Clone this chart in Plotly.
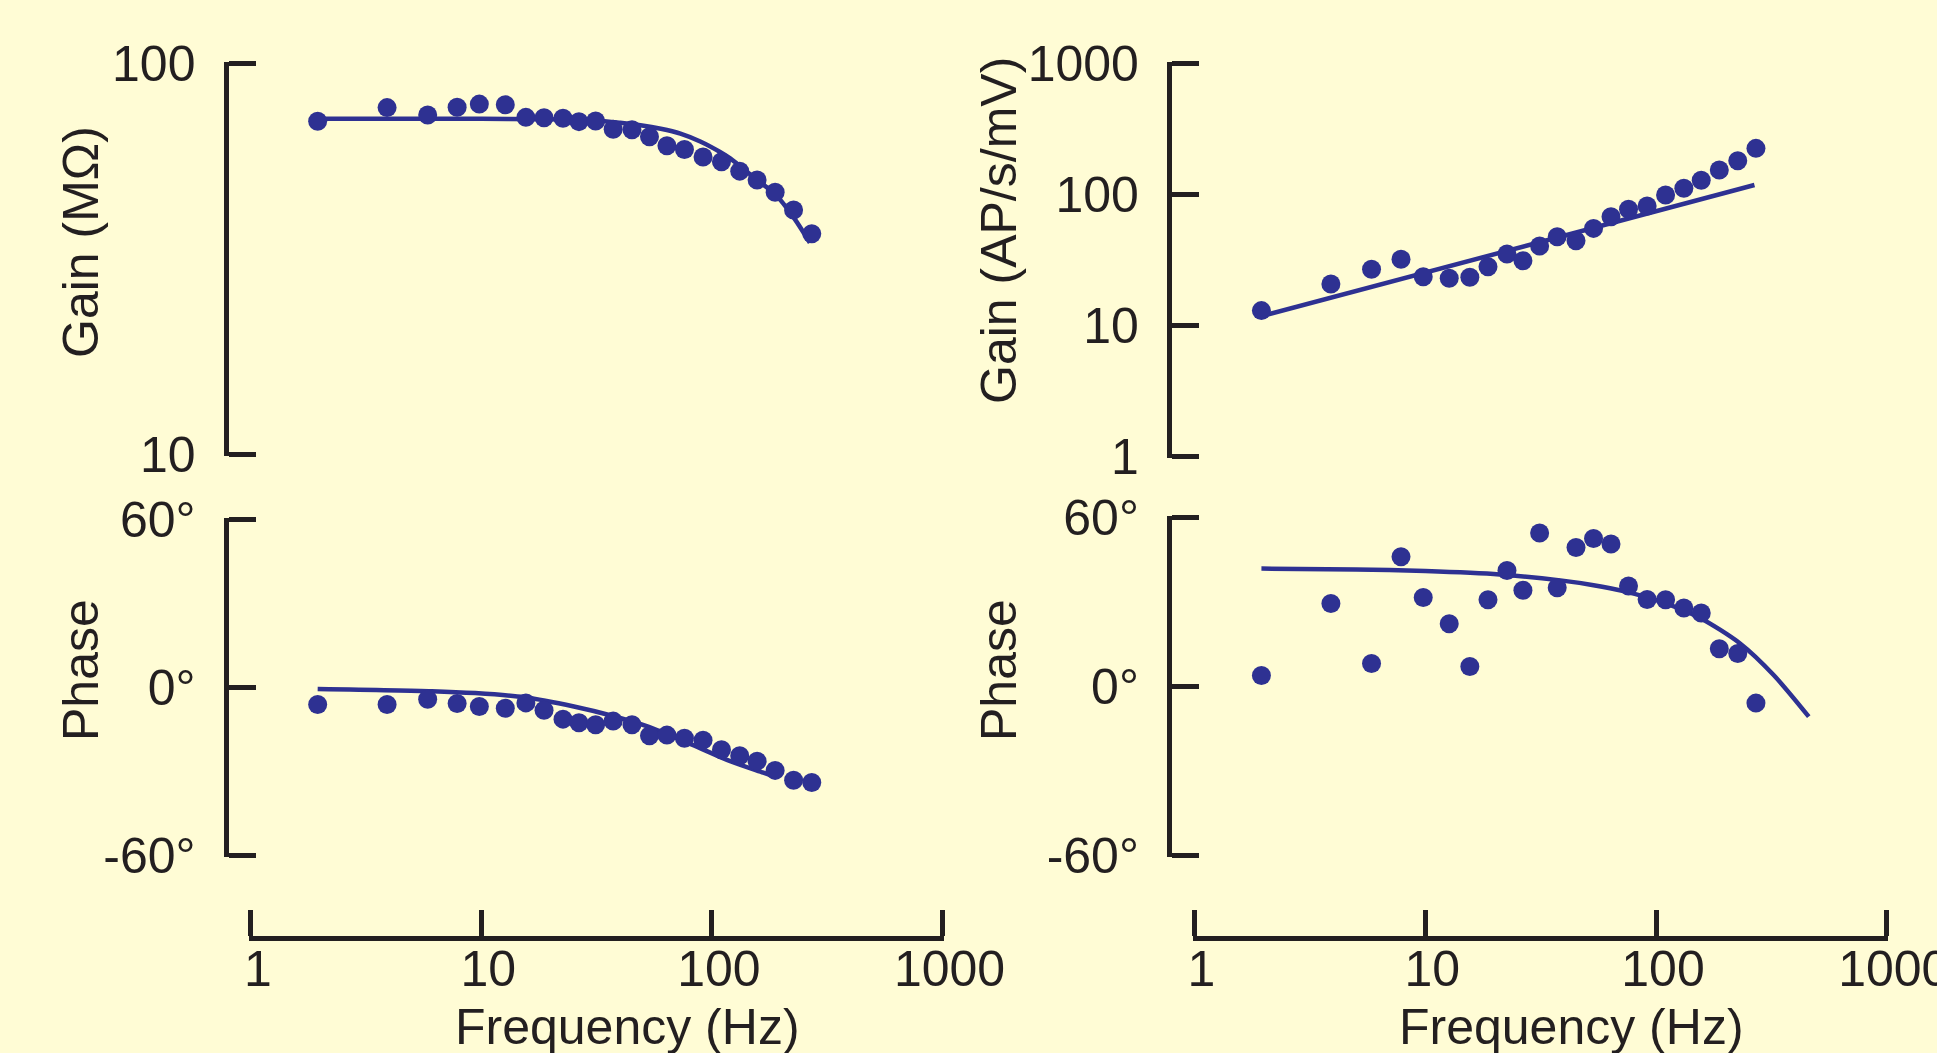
import plotly.graph_objects as go

# ---------------- data ----------------
freq = [1.95, 3.9, 5.85, 7.85, 9.8, 12.7, 15.6, 18.7, 22.6, 26.5, 31.3, 37.3,
        45, 53.6, 63.8, 76, 91.5, 110, 132, 157, 188, 226, 271]

gain_left = [71.0, 76.9, 73.6, 77.1, 78.5, 78.2, 72.6, 72.4, 72.2, 70.8, 71.1, 67.7,
             67.5, 64.8, 61.4, 60.1, 57.5, 55.9, 52.9, 50.2, 46.7, 42.1, 36.6]
phase_left = [-6.1, -6.1, -4.2, -5.7, -6.8, -7.4, -5.5, -8.1, -11.3, -12.6, -13.3, -12.0,
              -13.3, -17.2, -17.0, -18.1, -18.8, -22.2, -24.4, -26.3, -29.6, -33.1, -33.9]

gain_right = [12.9, 20.6, 26.7, 31.8, 23.4, 22.8, 23.2, 27.9, 34.9, 31.0, 40.2, 47.3,
              44.1, 54.8, 67.3, 76.7, 81.3, 98.6, 111, 128, 153, 180, 224]
phase_right = [3.9, 29.5, 8.2, 46.1, 31.6, 22.3, 7.1, 30.8, 41.2, 34.2, 54.5, 35.1,
               49.4, 52.6, 50.6, 35.7, 30.9, 30.8, 27.9, 26.1, 13.4, 11.7, -5.9]

fit_gain_left_f = [1.95, 10, 20, 31, 40, 49, 60, 73, 89, 108, 120, 150, 190, 228, 266]
fit_gain_left_v = [72.0, 72.0, 71.8, 71.3, 70.3, 69.3, 67.9, 66.0, 63.0, 59.3, 57.0, 51.3, 45.9, 40.0, 34.7]

fit_phase_left_f = [1.95, 6.1, 9.4, 15.4, 25.2, 36.5, 52.9, 81.4, 120, 167, 190]
fit_phase_left_v = [-0.5, -1.3, -2.0, -3.5, -6.8, -10.0, -14.0, -20.3, -26.3, -30.4, -32.0]

fit_gain_right_f = [1.95, 267]
fit_gain_right_v = [11.7, 117.5]

fit_phase_right_f = [1.95, 5, 10, 21, 38.5, 53.6, 72.3, 102.6, 153, 232, 324, 459]
fit_phase_right_v = [41.9, 41.6, 41.0, 39.8, 37.7, 36.0, 33.9, 30.4, 24.6, 15.2, 4.0, -10.7]

x_tickvals = [1, 10, 100, 1000]
x_ticktext = ["1", "10", "100", "1000"]
gain_left_ticks = [10, 100]
gain_right_ticks = [1, 10, 100, 1000]
phase_ticks = [-60, 0, 60]
phase_ticktext = ["-60°", "0°", "60°"]

# ---------------- layout geometry (pixels) ----------------
W, H = 1937, 1053


def px(x):
    return x / W


def py(y):
    return 1 - y / H


BG = "#FFFCD5"
BLUE = "#2E3192"
AX = "#231F20"
FONT = "Liberation Sans, Arial, sans-serif"
FS = 50
EPS = 1.5  # px the axis range is padded beyond the end ticks, so end ticks stay drawn

fig = go.Figure()


def add_panel(xa, ya, fx, fy, dx, dy):
    fig.add_trace(go.Scatter(x=fx, y=fy, mode="lines",
                             line=dict(color=BLUE, width=4.5, shape="spline", smoothing=0.8),
                             xaxis=xa, yaxis=ya, hoverinfo="skip", showlegend=False))
    fig.add_trace(go.Scatter(x=dx, y=dy, mode="markers",
                             marker=dict(color=BLUE, size=19, line=dict(width=0)),
                             xaxis=xa, yaxis=ya, showlegend=False))


add_panel("x", "y", fit_gain_left_f, fit_gain_left_v, freq, gain_left)
add_panel("x2", "y2", fit_phase_left_f, fit_phase_left_v, freq, phase_left)
add_panel("x3", "y3", fit_gain_right_f, fit_gain_right_v, freq, gain_right)
add_panel("x4", "y4", fit_phase_right_f, fit_phase_right_v, freq, phase_right)

tickfont = dict(family=FONT, size=FS, color=AX)
common_axis = dict(showgrid=False, zeroline=False, showline=True, linewidth=5,
                   linecolor=AX, ticks="inside", tickwidth=5, tickcolor=AX,
                   tickfont=tickfont, automargin=False, ticklabeloverflow="allow")


def padded(p0, p1, r0, r1):
    """Extend pixel span [p0,p1] (mapped to range r0..r1) by EPS px on both ends."""
    k = (r1 - r0) / (p1 - p0)
    return [p0 - EPS, p1 + EPS], [r0 - EPS * k, r1 + EPS * k]


# x axes: tick "1" and "1000" pixel positions
lx_px, lx_rng = padded(250.8, 942.5, 0, 3)
rx_px, rx_rng = padded(1194.5, 1886.8, 0, 3)
left_dom = [px(lx_px[0]), px(lx_px[1])]
right_dom = [px(rx_px[0]), px(rx_px[1])]
x_line_y = py(938)

# y axes (pixel rows measured top-down; bottom tick first)
ylt_px, ylt_rng = padded(-454, -63, 1, 2)
ylb_px, ylb_rng = padded(-855.5, -519.5, -60, 60)
yrt_px, yrt_rng = padded(-456, -63.3, 0, 3)
yrb_px, yrb_rng = padded(-855.4, -517.6, -60, 60)


def ydom(p):
    return [py(-p[0]), py(-p[1])]


hidden_x = dict(type="log", visible=False, showgrid=False, zeroline=False)

fig.update_layout(
    width=W, height=H,
    margin=dict(l=0, r=0, t=0, b=0, pad=0, autoexpand=False),
    paper_bgcolor=BG, plot_bgcolor=BG,
    showlegend=False,
    xaxis=dict(domain=left_dom, range=lx_rng, anchor="y", **hidden_x),
    xaxis3=dict(domain=right_dom, range=rx_rng, anchor="y3", **hidden_x),
    xaxis2=dict(domain=left_dom, type="log", range=lx_rng, anchor="free",
                position=x_line_y, tickvals=x_tickvals, ticktext=x_ticktext,
                ticklen=26, ticklabelstandoff=-15, ticklabelshift=7, **common_axis),
    xaxis4=dict(domain=right_dom, type="log", range=rx_rng, anchor="free",
                position=x_line_y, tickvals=x_tickvals, ticktext=x_ticktext,
                ticklen=26, ticklabelstandoff=-15, ticklabelshift=7, **common_axis),
    yaxis=dict(domain=ydom(ylt_px), type="log", range=ylt_rng, anchor="free",
               position=px(225.5), tickvals=gain_left_ticks, ticklen=27,
               ticklabelstandoff=18, **common_axis),
    yaxis2=dict(domain=ydom(ylb_px), range=ylb_rng, anchor="free",
                position=px(225.5), tickvals=phase_ticks, ticktext=phase_ticktext,
                ticklen=27, ticklabelstandoff=18, **common_axis),
    yaxis3=dict(domain=ydom(yrt_px), type="log", range=yrt_rng, anchor="free",
                position=px(1168.9), tickvals=gain_right_ticks, ticklen=27,
                ticklabelstandoff=18, **common_axis),
    yaxis4=dict(domain=ydom(yrb_px), range=yrb_rng, anchor="free",
                position=px(1168.9), tickvals=phase_ticks, ticktext=phase_ticktext,
                ticklen=27, ticklabelstandoff=18, **common_axis),
)

titles = [
    ("Gain (MΩ)", 81, 242, -90),
    ("Phase", 81, 670, -90),
    ("Gain (AP/s/mV)", 999, 231, -90),
    ("Phase", 999, 670, -90),
    ("Frequency (Hz)", 627.5, 1026.5, 0),
    ("Frequency (Hz)", 1571.5, 1026.5, 0),
]
for text, x, y, ang in titles:
    fig.add_annotation(text=text, x=px(x), y=py(y), xref="paper", yref="paper",
                       xanchor="center", yanchor="middle", showarrow=False,
                       textangle=ang, font=dict(family=FONT, size=FS, color=AX))

fig.write_html("out.html", config={"displayModeBar": False},
               post_script="document.body.style.margin='0';document.body.style.overflow='hidden';")
